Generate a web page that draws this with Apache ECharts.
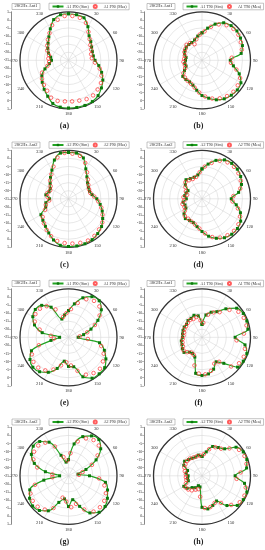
<!DOCTYPE html>
<html>
<head>
<meta charset="utf-8">
<script src="https://cdn.jsdelivr.net/npm/echarts@6/dist/echarts.min.js"></script>
<style>
html,body{margin:0;padding:0;background:#fff;}
#chart{width:265px;height:550px;}
</style>
</head>
<body>
<div id="chart"></div>
<script>
// ---------- data ----------
const simAngles = [0,10,20,30,40,50,60,70,80,90,100,110,120,130,140,150,160,170,180,190,200,210,220,230,240,250,260,270,280,290,300,310,320,330,340,350];
const meaAngles = [5,15,25,35,45,55,65,75,85,95,105,115,125,135,145,155,165,175,185,195,205,215,225,235,245,255,265,275,285,295,305,315,325,335,345,355];
const radialTicks = [5,0,-5,-10,-15,-20,-25,-20,-15,-10,-5,0,5];

const panelTitles = ['28GHz Ant1','28GHz Ant1','28GHz Ant2','28GHz Ant2','38GHz Ant1','38GHz Ant1','38GHz Ant2','38GHz Ant2'];
const simNames = ['A1 P90 (Sim)','A1 T90 (Sim)','A2 P90 (Sim)','A2 T90 (Sim)','A1 P90 (Sim)','A1 T90 (Sim)','A2 P90 (Sim)','A2 T90 (Sim)'];
const meaNames = ['A1 P90 (Mea)','A1 T90 (Mea)','A2 P90 (Mea)','A2 T90 (Mea)','A1 P90 (Mea)','A1 T90 (Mea)','A2 P90 (Mea)','A2 T90 (Mea)'];
const captions = ['(a)','(b)','(c)','(d)','(e)','(f)','(g)','(h)'];

// (a) 28GHz Ant1 P90
const simA = [3.8,3.6,3.0,-1.0,-5.2,-7.0,-8.5,-9.3,-9.4,-8.6,-6.0,-3.2,-0.5,1.6,3.5,4.5,4.7,4.6,4.5,4.4,3.4,0.7,-1.6,-3.8,-6.0,-9.5,-13.0,-14.5,-13.8,-11.8,-10.2,-8.5,-6.1,-2.5,1.8,3.6];
const meaA = [2.5,2.2,0.5,-3.5,-6.5,-8.5,-9.5,-10.5,-10.5,-8.5,-5.0,-2.5,-0.5,0.5,1.5,1.5,0.8,0.5,0.5,1.0,0.5,-2.0,-3.5,-5.0,-7.0,-11.5,-13.0,-12.5,-12.5,-10.5,-9.0,-7.0,-4.5,-1.0,1.0,2.5];
// (b) 28GHz Ant1 T90
const simB = [-8.0,-4.8,-1.2,1.8,3.0,3.2,2.5,1.6,-0.4,-7.5,-5.3,-0.5,2.8,3.5,3.2,2.5,1.0,-1.2,-3.2,-6.2,-8.6,-9.6,-9.5,-9.5,-12.5,-14.5,-14.2,-14.8,-15.0,-13.5,-12.8,-12.3,-12.3,-12.3,-11.6,-9.8];
const meaB = [-7.0,-3.5,-0.5,1.5,2.5,2.5,1.5,0.5,-6.5,-7.0,-3.0,1.0,2.0,2.5,2.0,1.0,-0.5,-2.5,-5.0,-7.5,-9.0,-9.5,-10.0,-11.0,-13.5,-14.0,-13.5,-14.0,-14.0,-13.0,-12.5,-11.5,-12.0,-14.0,-11.5,-9.0];
// (c) 28GHz Ant2 P90
const simC = [3.7,3.7,1.9,-3.6,-7.3,-9.6,-10.8,-11.2,-10.2,-7.5,-5.1,-2.8,-0.6,1.7,3.1,4.2,4.6,4.6,4.5,4.2,2.1,-0.6,-2.8,-4.3,-5.3,-10.0,-10.8,-13.3,-10.8,-12.2,-12.0,-10.2,-7.7,-4.5,0.5,3.7];
const meaC = [3.0,2.5,-0.5,-5.0,-8.0,-10.0,-11.0,-11.0,-9.0,-6.5,-4.0,-1.8,0.5,1.8,3.0,3.5,3.2,2.8,2.5,2.0,0.5,-1.5,-3.5,-5.5,-9.0,-10.5,-13.0,-12.0,-11.5,-12.5,-11.5,-9.0,-6.5,-3.0,1.5,3.5];
// (d) 28GHz Ant2 T90
const simD = [-6.5,-3.2,0.3,2.8,3.6,3.5,2.6,1.0,-2.0,-6.9,-3.5,0.3,2.6,3.6,3.6,2.8,1.0,-1.5,-4.8,-7.5,-9.3,-9.6,-9.0,-10.5,-13.5,-13.8,-13.1,-15.3,-14.1,-14.5,-15.0,-11.5,-9.6,-10.6,-10.8,-10.0];
const meaD = [-5.0,-2.0,1.0,2.5,3.0,2.5,1.5,-0.5,-5.5,-6.0,-2.0,1.0,2.5,3.0,2.5,1.5,-0.5,-3.5,-6.5,-8.5,-9.5,-10.0,-10.0,-12.0,-13.0,-12.5,-14.0,-13.5,-15.5,-14.0,-12.5,-10.5,-11.0,-11.5,-11.0,-8.5];
// (e) 38GHz Ant1 P90
const simE = [-8.5,-4.0,1.0,4.0,4.5,1.5,-4.0,-10.2,-15.5,-19.0,-5.5,-1.4,1.7,4.2,4.5,4.2,1.0,-6.5,-7.0,-10.0,-4.5,0.0,2.8,3.8,2.5,-0.6,-14.0,-19.5,-8.5,-2.6,0.5,1.8,0.8,-3.5,-13.0,-11.0];
const meaE = [-7.5,-3.0,1.0,2.5,2.0,-1.5,-7.0,-13.0,-18.0,-13.0,-4.0,-1.0,1.0,2.5,2.0,0.5,-3.5,-7.5,-9.5,-7.0,-3.0,0.0,1.5,1.5,0.0,-6.0,-16.0,-14.0,-6.5,-2.0,0.0,0.0,-1.5,-6.0,-12.0,-10.0];
// (f) 38GHz Ant1 T90
const simF = [-17.0,-11.0,-8.5,-6.7,-2.0,3.0,4.5,4.5,3.8,-4.5,2.0,4.5,4.5,3.7,-4.0,-7.5,-4.0,-2.0,-1.4,-2.4,-12.0,-13.5,-13.0,-10.5,-11.0,-11.8,-12.0,-12.9,-12.8,-12.5,-12.3,-12.5,-11.5,-11.5,-10.5,-11.5];
const meaF = [-16.0,-10.5,-8.0,-6.0,-1.0,2.5,3.5,3.5,1.0,-3.5,2.5,3.5,3.0,0.5,-6.5,-7.0,-3.5,-2.0,-2.5,-7.0,-13.0,-13.5,-12.0,-11.0,-12.0,-12.5,-13.0,-13.5,-13.5,-13.0,-13.0,-12.5,-12.0,-12.5,-12.0,-14.5];
// (g) 38GHz Ant2 P90
const simG = [-15.0,-5.0,0.8,3.5,4.2,1.0,-5.3,-13.5,-19.0,-12.0,-1.8,0.7,2.8,4.5,4.4,1.5,-4.9,-10.0,-6.0,-10.5,-7.5,0.0,3.0,4.0,2.8,0.5,-9.5,-19.5,-10.5,-2.5,1.5,3.5,2.7,-1.0,-11.5,-16.4];
const meaG = [-11.0,-3.0,0.5,2.0,1.5,-3.0,-9.0,-16.0,-18.5,-6.0,-2.0,0.5,2.0,2.5,2.0,-2.0,-7.0,-5.5,-9.0,-11.0,-3.0,0.5,2.0,2.0,1.0,-3.5,-15.0,-15.0,-5.0,-1.0,1.0,1.5,0.0,-5.0,-13.0,-15.5];
// (h) 38GHz Ant2 T90
const simH = [-13.0,-10.0,-5.7,-4.8,-3.2,2.5,4.5,4.5,3.0,-4.5,1.7,4.5,4.5,3.5,-1.0,-7.0,-5.5,-4.2,-5.5,-18.0,-18.5,-16.5,-15.5,-13.0,-12.0,-16.0,-16.0,-16.4,-15.1,-15.5,-12.0,-11.0,-12.0,-12.5,-12.7,-12.0];
const meaH = [-11.5,-8.0,-5.5,-4.5,-1.0,3.0,4.0,3.5,-1.0,-3.5,3.0,4.0,3.5,0.5,-4.5,-6.5,-5.0,-5.0,-12.0,-16.5,-15.5,-14.0,-13.0,-12.5,-14.0,-15.0,-15.0,-15.0,-14.0,-13.0,-12.5,-12.0,-12.0,-12.5,-12.5,-12.5];

const simSets = [simA,simB,simC,simD,simE,simF,simG,simH];
const meaSets = [meaA,meaB,meaC,meaD,meaE,meaF,meaG,meaH];

// ---------- layout ----------
const FONT = 'Liberation Serif';
const R = 48.5;
const polar = [], angleAxis = [], radiusAxis = [], grid = [], xAxis = [], yAxis = [], series = [], legend = [], title = [];

for (let i = 0; i < 8; i++) {
  const col = i % 2, row = Math.floor(i / 2);
  const cx = 68.5 + col * 133.5;
  const cy = 60.3 + row * 138.5;
  polar.push({ center: [cx, cy], radius: R });
  angleAxis.push({
    polarIndex: i, type: 'value', min: 0, max: 360, interval: 30,
    startAngle: 90, clockwise: true,
    axisLine: { show: true, lineStyle: { color: '#333', width: 1.3 } },
    axisTick: { show: false },
    axisLabel: { show: true, fontSize: 4.6, color: '#333', margin: 2.5, fontFamily: FONT,
      formatter: v => (v === 0 || v === 360) ? '' : String(v) },
    splitLine: { show: true, lineStyle: { color: '#d0d0d0', width: 0.5 } }
  });
  radiusAxis.push({
    polarIndex: i, type: 'value', min: -25, max: 5, interval: 5,
    axisLine: { show: false }, axisTick: { show: false }, axisLabel: { show: false },
    splitLine: { show: true, lineStyle: { color: '#d0d0d0', width: 0.5 } }
  });
  grid.push({ left: 10.8 + col * 133, top: cy - R, width: 1, height: 2 * R });
  xAxis.push({ gridIndex: i, type: 'value', show: false, min: 0, max: 1 });
  yAxis.push({
    gridIndex: i, type: 'value', min: -6, max: 6, interval: 1,
    axisLine: { show: true, lineStyle: { color: '#555', width: 0.7 } },
    axisTick: { show: true, length: 1.5, lineStyle: { color: '#555', width: 0.5 } },
    axisLabel: { fontSize: 4, color: '#333', margin: 1.5, fontFamily: FONT,
      formatter: v => String(radialTicks[6 - v]) },
    splitLine: { show: false }
  });

  const sim = simSets[i], mea = meaSets[i];
  const simData = simAngles.map((a, k) => [sim[k], a]);
  simData.push([sim[0], 360]);
  series.push({
    type: 'line', name: simNames[i], coordinateSystem: 'polar', polarIndex: i,
    data: simData, smooth: 0.35, symbol: 'rect', symbolSize: 3,
    lineStyle: { color: '#22a322', width: 1.2 }, itemStyle: { color: '#0b780b' }, z: 2
  });
  series.push({
    type: 'scatter', name: meaNames[i], coordinateSystem: 'polar', polarIndex: i,
    data: meaAngles.map((a, k) => [mea[k], a]), symbol: 'circle', symbolSize: 3.6,
    itemStyle: { color: 'rgba(255,255,255,0)', borderColor: '#ff3535', borderWidth: 0.9 }, z: 3
  });

  legend.push({
    data: [simNames[i], meaNames[i]], left: 49 + col * 134, top: 3.2 + row * 138.5,
    orient: 'horizontal', itemWidth: 11, itemHeight: 3, itemGap: 4,
    padding: [0.8, 2.5], borderColor: '#888', borderWidth: 0.5,
    textStyle: { fontSize: 4, color: '#333', fontFamily: FONT, padding: [0, 0, 0, -2] },
    selectedMode: false
  });
  title.push({
    text: panelTitles[i], left: 12 + col * 135, top: 3.2 + row * 138.5,
    padding: [0.8, 2.5], borderColor: '#888', borderWidth: 0.5,
    textStyle: { fontSize: 4.5, lineHeight: 4.5, fontWeight: 'normal', color: '#333', fontFamily: FONT }
  });
  title.push({
    text: captions[i], left: 64.5 + col * 134, top: 122 + row * 138.5, textAlign: 'center',
    padding: 0,
    textStyle: { fontSize: 8, fontWeight: 'bold', color: '#222', fontFamily: FONT }
  });
}

const chart = echarts.init(document.getElementById('chart'), null, { renderer: 'canvas' });
chart.setOption({
  animation: false,
  backgroundColor: '#fff',
  textStyle: { fontFamily: FONT },
  title, legend, polar, angleAxis, radiusAxis, grid, xAxis, yAxis, series
});
</script>
</body>
</html>
